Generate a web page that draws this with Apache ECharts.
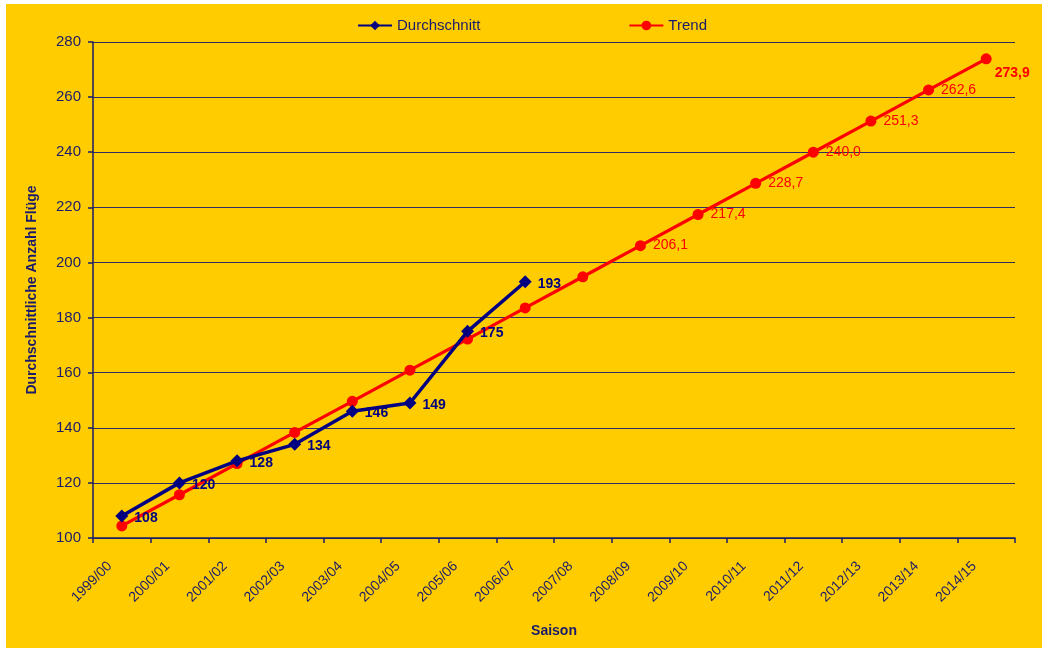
<!DOCTYPE html>
<html>
<head>
<meta charset="utf-8">
<script src="https://cdn.jsdelivr.net/npm/echarts@6/dist/echarts.min.js"></script>
<style>
html,body{margin:0;padding:0;background:#fff;}
#c{position:absolute;left:6px;top:4px;width:1036px;height:644px;background:#FFCC00;}
</style>
</head>
<body>
<div id="c"></div>
<script>
const seasons = ["1999/00","2000/01","2001/02","2002/03","2003/04","2004/05","2005/06","2006/07","2007/08","2008/09","2009/10","2010/11","2011/12","2012/13","2013/14","2014/15"];
const durchschnitt = [108,120,128,134,146,149,175,193];
const trend = [104.4,115.7,127.0,138.3,149.6,160.9,172.2,183.5,194.8,206.1,217.4,228.7,240.0,251.3,262.6,273.9];
const yTicks = {min:100, max:280, interval:20};
const firstTrendLabel = 9;

const navy = '#000080';
const txt = '#1B1B6B';
const red = '#FF0000';
const fmt = v => v.toFixed(1).replace('.', ',');

const chart = echarts.init(document.getElementById('c'), null, {renderer:'canvas'});
const tdata = trend.map((v,i)=> i===trend.length-1 ? {value:v, label:{fontWeight:'bold', offset:[-4,14]}} : v);
chart.setOption({
  backgroundColor:'#FFCC00',
  textStyle:{fontFamily:'Liberation Sans, Arial, sans-serif'},
  legend:{
    left:346, top:9, itemGap:148, itemWidth:34, itemHeight:12,
    textStyle:{color:txt, fontSize:15},
    data:['Durchschnitt','Trend']
  },
  grid:{left:87, right:27, top:38, bottom:110},
  xAxis:{
    type:'category', data:seasons, boundaryGap:true,
    name:'Saison', nameLocation:'middle', nameGap:86,
    nameTextStyle:{color:txt, fontWeight:'bold', fontSize:14},
    axisLine:{lineStyle:{color:txt, width:1.5}},
    axisTick:{show:true, length:5, lineStyle:{color:txt, width:1.5}, alignWithLabel:false},
    axisLabel:{rotate:45, color:txt, fontSize:14, margin:14, padding:[0,17,0,0], interval:0}
  },
  yAxis:{
    type:'value', min:yTicks.min, max:yTicks.max, interval:yTicks.interval,
    name:'Durchschnittliche Anzahl Flüge', nameLocation:'middle', nameGap:54,
    nameTextStyle:{color:txt, fontWeight:'bold', fontSize:14},
    axisLine:{show:true, lineStyle:{color:txt, width:1.5}},
    axisTick:{show:true, length:5, lineStyle:{color:txt, width:1.5}},
    axisLabel:{color:txt, fontSize:15, margin:12},
    splitLine:{lineStyle:{color:'#2F2F5F', width:1.2}}
  },
  series:[
    {
      name:'Trend', type:'line', data:tdata,
      symbol:'circle', symbolSize:11,
      lineStyle:{color:red, width:3.2}, itemStyle:{color:red},
      z:2,
      label:{
        show:true, position:'right', distance:7, color:red, fontSize:14,
        formatter:p => p.dataIndex >= firstTrendLabel ? fmt(p.value) : ''
      },
      emphasis:{disabled:true}
    },
    {
      name:'Durchschnitt', type:'line', data:durchschnitt,
      symbol:'diamond', symbolSize:13,
      lineStyle:{color:navy, width:3.5}, itemStyle:{color:navy},
      z:3,
      label:{show:true, position:'right', distance:6, offset:[0,2], color:navy, fontSize:14, fontWeight:'bold'},
      emphasis:{disabled:true}
    }
  ]
});
</script>
</body>
</html>
